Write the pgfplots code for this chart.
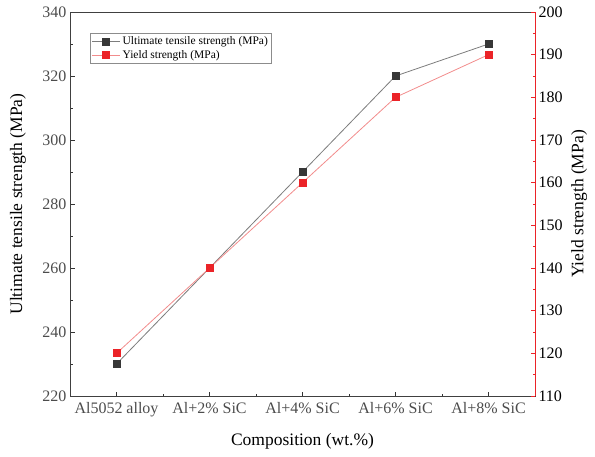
\documentclass[border=0pt]{standalone}
\usepackage{pgfplots}
\pgfplotsset{compat=1.18}
\usepackage{fontspec}
\setmainfont{Liberation Serif}
\definecolor{utsline}{RGB}{125,125,125}
\definecolor{utsmark}{RGB}{55,55,55}
\definecolor{ysred}{RGB}{235,35,40}
\definecolor{ysline}{RGB}{242,140,140}
\definecolor{ytick}{RGB}{235,80,85}
\begin{document}
\begin{tikzpicture}
\begin{axis}[
  name=main,
  scale only axis, width=465pt, height=384pt,
  xmin=-0.5, xmax=4.5, ymin=220, ymax=340,
  xtick={0,1,2,3,4},
  xticklabels={Al5052 alloy, Al+2\% SiC, Al+4\% SiC, Al+6\% SiC, Al+8\% SiC},
  minor xtick={0.5,1.5,2.5,3.5},
  ytick={220,240,...,340}, minor ytick={230,250,...,330},
  xtick pos=bottom, ytick pos=left,
  tick align=inside,
  major tick length=4.5pt, minor tick length=2.5pt,
  tick style={black!80, line width=0.8pt},
  tick label style={font=\fontsize{16}{19}\selectfont, black!70},
  xticklabel style={yshift=-3pt},
  xlabel style={font=\fontsize{17.5}{20}\selectfont, at={(axis description cs:0.5,-0.117)}, anchor=center},
  ylabel style={font=\fontsize{17.5}{20}\selectfont, at={(axis description cs:-0.112,0.5)}, anchor=center},
  xlabel={Composition (wt.\%)}, ylabel={Ultimate tensile strength (MPa)},
  /pgf/number format/assume math mode=true,
  axis line style={line width=1pt, black!75},
  legend style={at={(rel axis cs:0.043,0.945)}, anchor=north west,
    font=\fontsize{11.5}{13}\selectfont, draw=black!45, line width=0.6pt,
    inner sep=1.5pt, row sep=0pt, cells={anchor=west}},
  legend cell align=left,
  legend image code/.code={\draw[mark repeat=2,mark phase=2] plot coordinates {(0pt,0pt) (14pt,0pt) (28pt,0pt)};},
]
\addplot[utsline, line width=0.8pt, mark=square*, mark size=3.5pt,
  mark options={utsmark, fill=utsmark}]
  coordinates {(0,230) (1,260) (2,290) (3,320) (4,330)};
\addlegendentry{Ultimate tensile strength (MPa)}
\addlegendimage{ysline, line width=0.8pt, mark=square*, mark size=3.5pt, mark options={ysred, fill=ysred}}
\addlegendentry{Yield strength (MPa)}
\end{axis}
\begin{axis}[
  scale only axis, width=465pt, height=384pt,
  xmin=-0.5, xmax=4.5, ymin=110, ymax=200,
  axis x line=none, axis y line*=right,
  ytick={110,120,...,200}, minor ytick={115,125,...,195},
  tick align=inside,
  major tick length=4.5pt, minor tick length=2.5pt,
  tick style={ysred, line width=0.8pt},
  y axis line style={ysred, line width=1pt},
  yticklabel style={font=\fontsize{16}{19}\selectfont, ytick},
  ylabel style={font=\fontsize{17.5}{20}\selectfont, at={(axis description cs:1.095,0.5)}, anchor=center},
  ylabel={Yield strength (MPa)},
  /pgf/number format/assume math mode=true,
]
\addplot[ysline, line width=0.8pt, mark=square*, mark size=3.5pt,
  mark options={ysred, fill=ysred}]
  coordinates {(0,120) (1,140) (2,160) (3,180) (4,190)};
\end{axis}
\pgfresetboundingbox
\path ([shift={(-70pt,-60pt)}]main.south west) rectangle ([shift={(60pt,12pt)}]main.north east);
\end{tikzpicture}
\end{document}
